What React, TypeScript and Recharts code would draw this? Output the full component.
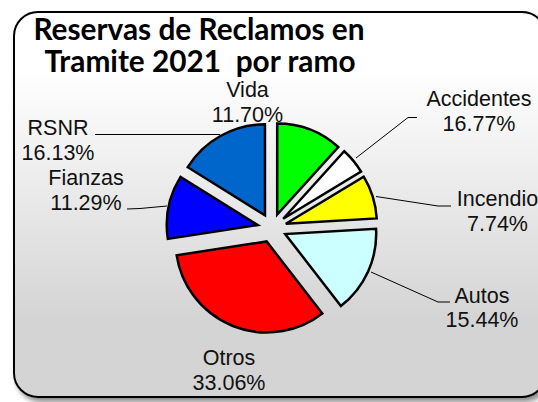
import React from "react";
import { PieChart, Pie, Cell, Sector } from "recharts";

const categories = ["Vida", "Accidentes", "Incendio", "Autos", "Otros", "Fianzas", "RSNR"];
// the white slice is drawn far smaller than its printed 16.77%
const sliceValues = [11.7, 4.64, 7.74, 15.44, 33.06, 11.29, 16.13];
const percentLabels = ["11.70%", "16.77%", "7.74%", "15.44%", "33.06%", "11.29%", "16.13%"];
const sliceColors = ["#00ff00", "#ffffff", "#ffff00", "#ccffff", "#ff0000", "#0000ff", "#0066cc"];

const chartData = categories.map((name, i) => ({ name, value: sliceValues[i] }));

const EXPLODE = 14.5;
const RAD = Math.PI / 180;

// text anchor and leader line for each label
const labelBoxes = [
  { x: 247.5, y: 97, line: "" },
  { x: 479, y: 106, line: "356,158 408,117.5 417,117.5" },
  { x: 497.5, y: 206, line: "376,196.5 438,206 451,206" },
  { x: 482, y: 302.5, line: "371,272 438,302 450,302" },
  { x: 229, y: 365, line: "" },
  { x: 86, y: 185, line: "167,206 140,208.5 127,209" },
  { x: 58, y: 135, line: "220,134.5 95,134.5" },
];

const ExplodedSlice = (props: any) => {
  const { cx, cy, midAngle } = props;
  const dx = EXPLODE * Math.cos(-midAngle * RAD);
  const dy = EXPLODE * Math.sin(-midAngle * RAD);
  return <Sector {...props} cx={cx + dx} cy={cy + dy} />;
};

const SliceLabel = (props: any) => {
  const { index } = props;
  const box = labelBoxes[index];
  return (
    <g>
      {box.line && <polyline points={box.line} fill="none" stroke="#000" strokeWidth={1} />}
      <text x={box.x} y={box.y} textAnchor="middle" fontSize={21.5} fontFamily="Liberation Sans" fill="#111">
        {categories[index]}
      </text>
      <text x={box.x} y={box.y + 24.5} textAnchor="middle" fontSize={21.5} fontFamily="Liberation Sans" fill="#111">
        {percentLabels[index]}
      </text>
    </g>
  );
};

export default function App() {
  return (
    <div style={{ position: "absolute", left: 0, top: 0, width: 538, height: 402, overflow: "hidden", background: "#fff" }}>
      <div
        style={{
          position: "absolute",
          left: 13,
          top: 11,
          width: 534,
          height: 387,
          boxSizing: "border-box",
          border: "2px solid #000",
          borderRadius: 25,
          background: "linear-gradient(#ffffff 0%, #ffffff 15%, #d4d4d4 80%, #d4d4d4 100%)",
          boxShadow: "3px 4px 5px rgba(0,0,0,0.45)",
        }}
      />
      <div style={{ position: "absolute", left: 0, top: 0 }}>
        <PieChart width={538} height={402} margin={{ top: 0, right: 0, bottom: 0, left: 0 }}>
          <text x={199} y={40} textAnchor="middle" fontSize={29.8} fontWeight={700} fontFamily="Lato" fill="#000">
            Reservas de Reclamos en
          </text>
          <text x={200} y={72} textAnchor="middle" fontSize={29.8} fontWeight={700} fontFamily="Lato" fill="#000" xmlSpace="preserve">
            Tramite 2021  por ramo
          </text>
          <Pie
            data={chartData}
            dataKey="value"
            nameKey="name"
            cx={272}
            cy={228}
            outerRadius={91}
            startAngle={90}
            endAngle={-270}
            paddingAngle={0}
            stroke="#000"
            strokeWidth={2.5}
            shape={ExplodedSlice}
            label={SliceLabel}
            labelLine={false}
            isAnimationActive={false}
          >
            {chartData.map((d, i) => (
              <Cell key={d.name} fill={sliceColors[i]} />
            ))}
          </Pie>
        </PieChart>
      </div>
    </div>
  );
}
